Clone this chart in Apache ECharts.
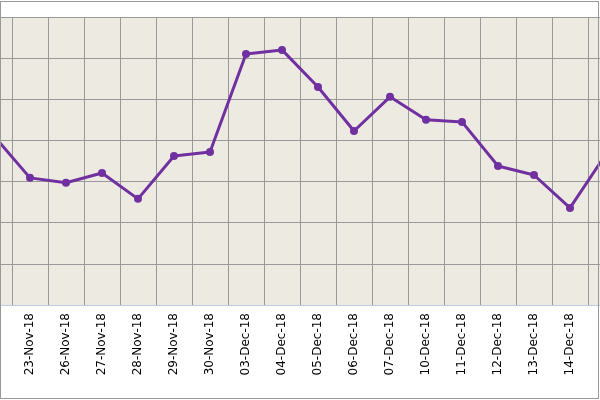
<!DOCTYPE html><html><head><meta charset="utf-8">
<script src="https://cdn.jsdelivr.net/npm/echarts@6/dist/echarts.min.js"></script>
<style>html,body{margin:0;padding:0;background:#fff;overflow:hidden;width:600px;height:400px}
#c{position:absolute;left:-24px;top:0;width:648px;height:400px}
#b{position:absolute;left:0;top:1px;width:597px;height:396px;border:1px solid #999;pointer-events:none}</style></head><body><div id="c"></div><div id="b"></div>
<script>
const categories=['22-Nov-18','23-Nov-18','26-Nov-18','27-Nov-18','28-Nov-18','29-Nov-18','30-Nov-18','03-Dec-18','04-Dec-18','05-Dec-18','06-Dec-18','07-Dec-18','10-Dec-18','11-Dec-18','12-Dec-18','13-Dec-18','14-Dec-18','17-Dec-18'];
const values=[4.11,3.09,2.97,3.21,2.58,3.62,3.72,6.10,6.20,5.30,4.23,5.06,4.50,4.45,3.38,3.16,2.36,3.67];
const chart=echarts.init(document.getElementById('c'));
chart.setOption({
 animation:false,
 grid:{left:0,right:0,top:17,bottom:95,show:true,backgroundColor:'#EDEBE1',borderWidth:0},
 xAxis:{type:'category',data:categories,boundaryGap:true,
  axisLine:{lineStyle:{color:'#B8CCE4'}},axisTick:{show:false},
  splitLine:{show:true,lineStyle:{color:'#999',width:1}},
  axisLabel:{rotate:90,interval:0,fontFamily:'DejaVu Sans',fontSize:12,color:'#000',margin:8,
   formatter:(v,i)=>i===0?'{a|'+v+'}':v,rich:{a:{color:'#33CCFF',fontFamily:'DejaVu Sans',fontSize:12}}}},
 yAxis:{type:'value',min:0,max:7,interval:1,axisLabel:{show:false},axisLine:{show:false},axisTick:{show:false},
  splitLine:{lineStyle:{color:'#999',width:1}}},
 series:[{type:'line',data:values,symbol:'circle',symbolSize:8,
  lineStyle:{color:'#7030A0',width:3},itemStyle:{color:'#7030A0'}}]
});
</script></body></html>
